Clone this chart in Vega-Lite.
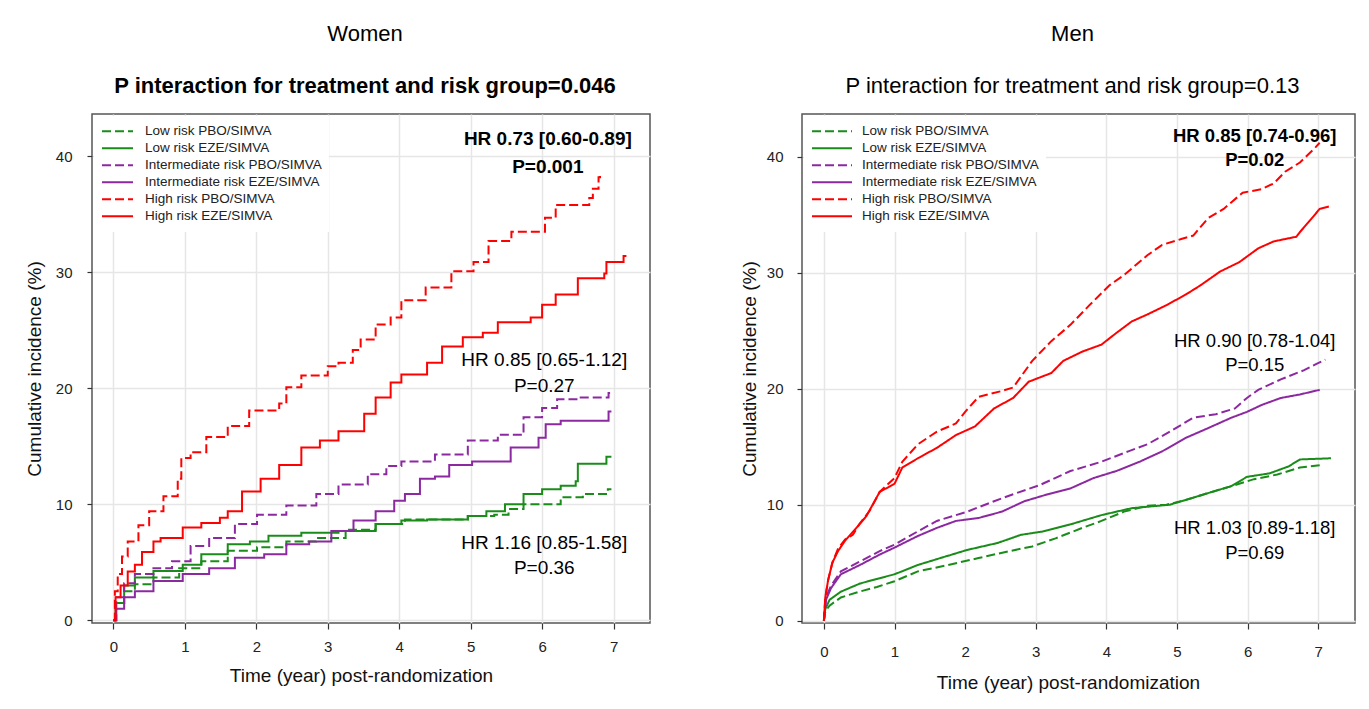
{
  "$schema": "https://vega.github.io/schema/vega-lite/v6.json",
  "padding": {"left": 24, "top": 22, "right": 5, "bottom": 5},
  "background": "white",
  "spacing": 88,
  "config": {
    "font": "Liberation Sans",
    "view": {"stroke": "#555555", "strokeWidth": 1.5},
    "axis": {
      "grid": true, "gridColor": "#e6e6e6", "gridWidth": 1.5,
      "domain": false, "tickColor": "#333333", "tickWidth": 1.2,
      "labelFontSize": 15, "labelColor": "#222222", "labelFont": "Liberation Sans",
      "titleFontSize": 19, "titleFontWeight": "normal", "titleColor": "#111111", "titleFont": "Liberation Sans"
    },
    "legend": {
      "orient": "top-left", "fillColor": "white", "symbolType": "stroke",
      "symbolStrokeWidth": 2, "labelFontSize": 13.5, "labelColor": "#222222", "labelLimit": 400,
      "labelFont": "Liberation Sans", "padding": 7, "offset": 2, "rowPadding": 0, "clipHeight": 16.5
    }
  },
  "datasets": {
    "women": [
      {"g": "Low risk PBO/SIMVA", "t": 0, "v": 0}, {"g": "Low risk PBO/SIMVA", "t": 0.03, "v": 1.5}, {"g": "Low risk PBO/SIMVA", "t": 0.15, "v": 2.5}, {"g": "Low risk PBO/SIMVA", "t": 0.3, "v": 3.1}, {"g": "Low risk PBO/SIMVA", "t": 0.56, "v": 3.7}, {"g": "Low risk PBO/SIMVA", "t": 0.92, "v": 4.5}, {"g": "Low risk PBO/SIMVA", "t": 1.23, "v": 5.1}, {"g": "Low risk PBO/SIMVA", "t": 1.6, "v": 6.0}, {"g": "Low risk PBO/SIMVA", "t": 2.01, "v": 6.3}, {"g": "Low risk PBO/SIMVA", "t": 2.42, "v": 6.8}, {"g": "Low risk PBO/SIMVA", "t": 2.84, "v": 7.1}, {"g": "Low risk PBO/SIMVA", "t": 3.25, "v": 7.8}, {"g": "Low risk PBO/SIMVA", "t": 3.67, "v": 8.3}, {"g": "Low risk PBO/SIMVA", "t": 4.08, "v": 8.7}, {"g": "Low risk PBO/SIMVA", "t": 4.96, "v": 9.0}, {"g": "Low risk PBO/SIMVA", "t": 5.33, "v": 9.1}, {"g": "Low risk PBO/SIMVA", "t": 5.53, "v": 9.6}, {"g": "Low risk PBO/SIMVA", "t": 5.74, "v": 10.0}, {"g": "Low risk PBO/SIMVA", "t": 6.26, "v": 10.6}, {"g": "Low risk PBO/SIMVA", "t": 6.57, "v": 10.9}, {"g": "Low risk PBO/SIMVA", "t": 6.92, "v": 11.3}, {"g": "Low risk PBO/SIMVA", "t": 6.97, "v": 11.3},
      {"g": "Low risk EZE/SIMVA", "t": 0, "v": 0}, {"g": "Low risk EZE/SIMVA", "t": 0.03, "v": 1.5}, {"g": "Low risk EZE/SIMVA", "t": 0.15, "v": 3.0}, {"g": "Low risk EZE/SIMVA", "t": 0.3, "v": 3.7}, {"g": "Low risk EZE/SIMVA", "t": 0.56, "v": 4.25}, {"g": "Low risk EZE/SIMVA", "t": 0.97, "v": 4.8}, {"g": "Low risk EZE/SIMVA", "t": 1.23, "v": 5.7}, {"g": "Low risk EZE/SIMVA", "t": 1.6, "v": 6.55}, {"g": "Low risk EZE/SIMVA", "t": 1.91, "v": 6.8}, {"g": "Low risk EZE/SIMVA", "t": 2.17, "v": 7.3}, {"g": "Low risk EZE/SIMVA", "t": 2.63, "v": 7.55}, {"g": "Low risk EZE/SIMVA", "t": 3.15, "v": 7.7}, {"g": "Low risk EZE/SIMVA", "t": 3.67, "v": 8.3}, {"g": "Low risk EZE/SIMVA", "t": 4.03, "v": 8.6}, {"g": "Low risk EZE/SIMVA", "t": 4.39, "v": 8.7}, {"g": "Low risk EZE/SIMVA", "t": 4.96, "v": 9.0}, {"g": "Low risk EZE/SIMVA", "t": 5.22, "v": 9.4}, {"g": "Low risk EZE/SIMVA", "t": 5.48, "v": 10.0}, {"g": "Low risk EZE/SIMVA", "t": 5.74, "v": 10.9}, {"g": "Low risk EZE/SIMVA", "t": 6.0, "v": 11.3}, {"g": "Low risk EZE/SIMVA", "t": 6.26, "v": 11.6}, {"g": "Low risk EZE/SIMVA", "t": 6.47, "v": 12.0}, {"g": "Low risk EZE/SIMVA", "t": 6.5, "v": 13.5}, {"g": "Low risk EZE/SIMVA", "t": 6.9, "v": 14.1}, {"g": "Low risk EZE/SIMVA", "t": 6.97, "v": 14.1},
      {"g": "Intermediate risk PBO/SIMVA", "t": 0, "v": 0}, {"g": "Intermediate risk PBO/SIMVA", "t": 0.04, "v": 2.0}, {"g": "Intermediate risk PBO/SIMVA", "t": 0.15, "v": 3.2}, {"g": "Intermediate risk PBO/SIMVA", "t": 0.3, "v": 4.0}, {"g": "Intermediate risk PBO/SIMVA", "t": 0.56, "v": 4.5}, {"g": "Intermediate risk PBO/SIMVA", "t": 0.82, "v": 5.1}, {"g": "Intermediate risk PBO/SIMVA", "t": 1.08, "v": 6.4}, {"g": "Intermediate risk PBO/SIMVA", "t": 1.34, "v": 7.1}, {"g": "Intermediate risk PBO/SIMVA", "t": 1.7, "v": 8.3}, {"g": "Intermediate risk PBO/SIMVA", "t": 2.01, "v": 9.1}, {"g": "Intermediate risk PBO/SIMVA", "t": 2.42, "v": 9.9}, {"g": "Intermediate risk PBO/SIMVA", "t": 2.84, "v": 10.9}, {"g": "Intermediate risk PBO/SIMVA", "t": 3.15, "v": 11.7}, {"g": "Intermediate risk PBO/SIMVA", "t": 3.56, "v": 12.6}, {"g": "Intermediate risk PBO/SIMVA", "t": 3.82, "v": 13.3}, {"g": "Intermediate risk PBO/SIMVA", "t": 4.03, "v": 13.7}, {"g": "Intermediate risk PBO/SIMVA", "t": 4.5, "v": 14.3}, {"g": "Intermediate risk PBO/SIMVA", "t": 4.96, "v": 15.5}, {"g": "Intermediate risk PBO/SIMVA", "t": 5.38, "v": 16.0}, {"g": "Intermediate risk PBO/SIMVA", "t": 5.74, "v": 17.5}, {"g": "Intermediate risk PBO/SIMVA", "t": 6.0, "v": 18.3}, {"g": "Intermediate risk PBO/SIMVA", "t": 6.21, "v": 19.05}, {"g": "Intermediate risk PBO/SIMVA", "t": 6.52, "v": 19.2}, {"g": "Intermediate risk PBO/SIMVA", "t": 6.93, "v": 19.6}, {"g": "Intermediate risk PBO/SIMVA", "t": 6.97, "v": 19.6},
      {"g": "Intermediate risk EZE/SIMVA", "t": 0, "v": 0}, {"g": "Intermediate risk EZE/SIMVA", "t": 0.04, "v": 1.0}, {"g": "Intermediate risk EZE/SIMVA", "t": 0.15, "v": 2.0}, {"g": "Intermediate risk EZE/SIMVA", "t": 0.3, "v": 2.5}, {"g": "Intermediate risk EZE/SIMVA", "t": 0.56, "v": 3.4}, {"g": "Intermediate risk EZE/SIMVA", "t": 0.97, "v": 4.0}, {"g": "Intermediate risk EZE/SIMVA", "t": 1.34, "v": 4.5}, {"g": "Intermediate risk EZE/SIMVA", "t": 1.7, "v": 5.4}, {"g": "Intermediate risk EZE/SIMVA", "t": 2.11, "v": 5.7}, {"g": "Intermediate risk EZE/SIMVA", "t": 2.42, "v": 6.55}, {"g": "Intermediate risk EZE/SIMVA", "t": 2.74, "v": 6.8}, {"g": "Intermediate risk EZE/SIMVA", "t": 3.05, "v": 7.7}, {"g": "Intermediate risk EZE/SIMVA", "t": 3.36, "v": 8.6}, {"g": "Intermediate risk EZE/SIMVA", "t": 3.67, "v": 9.4}, {"g": "Intermediate risk EZE/SIMVA", "t": 3.93, "v": 10.3}, {"g": "Intermediate risk EZE/SIMVA", "t": 4.08, "v": 10.9}, {"g": "Intermediate risk EZE/SIMVA", "t": 4.29, "v": 12.2}, {"g": "Intermediate risk EZE/SIMVA", "t": 4.5, "v": 12.4}, {"g": "Intermediate risk EZE/SIMVA", "t": 4.7, "v": 13.4}, {"g": "Intermediate risk EZE/SIMVA", "t": 5.02, "v": 13.7}, {"g": "Intermediate risk EZE/SIMVA", "t": 5.56, "v": 14.9}, {"g": "Intermediate risk EZE/SIMVA", "t": 5.95, "v": 15.75}, {"g": "Intermediate risk EZE/SIMVA", "t": 6.05, "v": 16.9}, {"g": "Intermediate risk EZE/SIMVA", "t": 6.26, "v": 17.2}, {"g": "Intermediate risk EZE/SIMVA", "t": 6.93, "v": 18.0}, {"g": "Intermediate risk EZE/SIMVA", "t": 6.97, "v": 18.0},
      {"g": "High risk PBO/SIMVA", "t": 0, "v": 0}, {"g": "High risk PBO/SIMVA", "t": 0.02, "v": 2.5}, {"g": "High risk PBO/SIMVA", "t": 0.06, "v": 4.0}, {"g": "High risk PBO/SIMVA", "t": 0.12, "v": 5.5}, {"g": "High risk PBO/SIMVA", "t": 0.2, "v": 6.8}, {"g": "High risk PBO/SIMVA", "t": 0.35, "v": 8.2}, {"g": "High risk PBO/SIMVA", "t": 0.5, "v": 9.4}, {"g": "High risk PBO/SIMVA", "t": 0.7, "v": 10.7}, {"g": "High risk PBO/SIMVA", "t": 0.9, "v": 12.2}, {"g": "High risk PBO/SIMVA", "t": 0.95, "v": 14.0}, {"g": "High risk PBO/SIMVA", "t": 1.08, "v": 14.5}, {"g": "High risk PBO/SIMVA", "t": 1.3, "v": 15.8}, {"g": "High risk PBO/SIMVA", "t": 1.6, "v": 16.75}, {"g": "High risk PBO/SIMVA", "t": 1.9, "v": 18.1}, {"g": "High risk PBO/SIMVA", "t": 2.32, "v": 18.7}, {"g": "High risk PBO/SIMVA", "t": 2.42, "v": 20.1}, {"g": "High risk PBO/SIMVA", "t": 2.63, "v": 21.1}, {"g": "High risk PBO/SIMVA", "t": 3.0, "v": 21.9}, {"g": "High risk PBO/SIMVA", "t": 3.15, "v": 22.2}, {"g": "High risk PBO/SIMVA", "t": 3.35, "v": 23.3}, {"g": "High risk PBO/SIMVA", "t": 3.46, "v": 24.2}, {"g": "High risk PBO/SIMVA", "t": 3.67, "v": 25.5}, {"g": "High risk PBO/SIMVA", "t": 3.88, "v": 26.1}, {"g": "High risk PBO/SIMVA", "t": 4.03, "v": 27.6}, {"g": "High risk PBO/SIMVA", "t": 4.37, "v": 28.7}, {"g": "High risk PBO/SIMVA", "t": 4.73, "v": 30.1}, {"g": "High risk PBO/SIMVA", "t": 5.04, "v": 30.9}, {"g": "High risk PBO/SIMVA", "t": 5.25, "v": 32.7}, {"g": "High risk PBO/SIMVA", "t": 5.57, "v": 33.5}, {"g": "High risk PBO/SIMVA", "t": 6.04, "v": 34.7}, {"g": "High risk PBO/SIMVA", "t": 6.19, "v": 35.8}, {"g": "High risk PBO/SIMVA", "t": 6.66, "v": 36.4}, {"g": "High risk PBO/SIMVA", "t": 6.71, "v": 37.2}, {"g": "High risk PBO/SIMVA", "t": 6.79, "v": 38.2}, {"g": "High risk PBO/SIMVA", "t": 6.81, "v": 38.3},
      {"g": "High risk EZE/SIMVA", "t": 0, "v": 0}, {"g": "High risk EZE/SIMVA", "t": 0.03, "v": 2.0}, {"g": "High risk EZE/SIMVA", "t": 0.1, "v": 3.0}, {"g": "High risk EZE/SIMVA", "t": 0.2, "v": 4.2}, {"g": "High risk EZE/SIMVA", "t": 0.3, "v": 4.8}, {"g": "High risk EZE/SIMVA", "t": 0.4, "v": 5.9}, {"g": "High risk EZE/SIMVA", "t": 0.56, "v": 6.8}, {"g": "High risk EZE/SIMVA", "t": 0.66, "v": 7.1}, {"g": "High risk EZE/SIMVA", "t": 0.97, "v": 8.0}, {"g": "High risk EZE/SIMVA", "t": 1.23, "v": 8.4}, {"g": "High risk EZE/SIMVA", "t": 1.49, "v": 8.85}, {"g": "High risk EZE/SIMVA", "t": 1.6, "v": 9.4}, {"g": "High risk EZE/SIMVA", "t": 1.8, "v": 11.1}, {"g": "High risk EZE/SIMVA", "t": 2.06, "v": 12.2}, {"g": "High risk EZE/SIMVA", "t": 2.32, "v": 13.4}, {"g": "High risk EZE/SIMVA", "t": 2.63, "v": 14.9}, {"g": "High risk EZE/SIMVA", "t": 2.89, "v": 15.5}, {"g": "High risk EZE/SIMVA", "t": 3.15, "v": 16.3}, {"g": "High risk EZE/SIMVA", "t": 3.51, "v": 17.8}, {"g": "High risk EZE/SIMVA", "t": 3.67, "v": 19.2}, {"g": "High risk EZE/SIMVA", "t": 3.88, "v": 20.5}, {"g": "High risk EZE/SIMVA", "t": 4.03, "v": 21.2}, {"g": "High risk EZE/SIMVA", "t": 4.39, "v": 22.2}, {"g": "High risk EZE/SIMVA", "t": 4.6, "v": 23.6}, {"g": "High risk EZE/SIMVA", "t": 4.89, "v": 24.4}, {"g": "High risk EZE/SIMVA", "t": 5.17, "v": 24.8}, {"g": "High risk EZE/SIMVA", "t": 5.38, "v": 25.7}, {"g": "High risk EZE/SIMVA", "t": 5.84, "v": 26.1}, {"g": "High risk EZE/SIMVA", "t": 6.0, "v": 27.2}, {"g": "High risk EZE/SIMVA", "t": 6.19, "v": 28.1}, {"g": "High risk EZE/SIMVA", "t": 6.5, "v": 29.5}, {"g": "High risk EZE/SIMVA", "t": 6.87, "v": 29.9}, {"g": "High risk EZE/SIMVA", "t": 6.9, "v": 30.9}, {"g": "High risk EZE/SIMVA", "t": 7.14, "v": 31.4}, {"g": "High risk EZE/SIMVA", "t": 7.18, "v": 31.4}
    ],
    "men": [
      {"g": "Low risk PBO/SIMVA", "t": 0, "v": 0}, {"g": "Low risk PBO/SIMVA", "t": 0.02, "v": 0.8}, {"g": "Low risk PBO/SIMVA", "t": 0.08, "v": 1.3}, {"g": "Low risk PBO/SIMVA", "t": 0.24, "v": 2.0}, {"g": "Low risk PBO/SIMVA", "t": 0.5, "v": 2.5}, {"g": "Low risk PBO/SIMVA", "t": 0.75, "v": 2.9}, {"g": "Low risk PBO/SIMVA", "t": 1.0, "v": 3.4}, {"g": "Low risk PBO/SIMVA", "t": 1.33, "v": 4.25}, {"g": "Low risk PBO/SIMVA", "t": 1.76, "v": 4.8}, {"g": "Low risk PBO/SIMVA", "t": 2.19, "v": 5.4}, {"g": "Low risk PBO/SIMVA", "t": 2.63, "v": 6.0}, {"g": "Low risk PBO/SIMVA", "t": 2.95, "v": 6.4}, {"g": "Low risk PBO/SIMVA", "t": 3.28, "v": 7.1}, {"g": "Low risk PBO/SIMVA", "t": 3.66, "v": 8.0}, {"g": "Low risk PBO/SIMVA", "t": 3.93, "v": 8.6}, {"g": "Low risk PBO/SIMVA", "t": 4.25, "v": 9.4}, {"g": "Low risk PBO/SIMVA", "t": 4.58, "v": 9.9}, {"g": "Low risk PBO/SIMVA", "t": 4.85, "v": 10.0}, {"g": "Low risk PBO/SIMVA", "t": 5.12, "v": 10.4}, {"g": "Low risk PBO/SIMVA", "t": 5.44, "v": 11.0}, {"g": "Low risk PBO/SIMVA", "t": 5.77, "v": 11.6}, {"g": "Low risk PBO/SIMVA", "t": 6.09, "v": 12.2}, {"g": "Low risk PBO/SIMVA", "t": 6.42, "v": 12.6}, {"g": "Low risk PBO/SIMVA", "t": 6.74, "v": 13.2}, {"g": "Low risk PBO/SIMVA", "t": 7.02, "v": 13.4},
      {"g": "Low risk EZE/SIMVA", "t": 0, "v": 0}, {"g": "Low risk EZE/SIMVA", "t": 0.02, "v": 1.0}, {"g": "Low risk EZE/SIMVA", "t": 0.08, "v": 1.8}, {"g": "Low risk EZE/SIMVA", "t": 0.24, "v": 2.5}, {"g": "Low risk EZE/SIMVA", "t": 0.51, "v": 3.2}, {"g": "Low risk EZE/SIMVA", "t": 0.75, "v": 3.6}, {"g": "Low risk EZE/SIMVA", "t": 1.0, "v": 4.0}, {"g": "Low risk EZE/SIMVA", "t": 1.33, "v": 4.8}, {"g": "Low risk EZE/SIMVA", "t": 1.65, "v": 5.4}, {"g": "Low risk EZE/SIMVA", "t": 2.03, "v": 6.1}, {"g": "Low risk EZE/SIMVA", "t": 2.46, "v": 6.7}, {"g": "Low risk EZE/SIMVA", "t": 2.79, "v": 7.4}, {"g": "Low risk EZE/SIMVA", "t": 3.11, "v": 7.7}, {"g": "Low risk EZE/SIMVA", "t": 3.49, "v": 8.3}, {"g": "Low risk EZE/SIMVA", "t": 3.93, "v": 9.1}, {"g": "Low risk EZE/SIMVA", "t": 4.36, "v": 9.7}, {"g": "Low risk EZE/SIMVA", "t": 4.9, "v": 10.0}, {"g": "Low risk EZE/SIMVA", "t": 5.12, "v": 10.4}, {"g": "Low risk EZE/SIMVA", "t": 5.44, "v": 11.0}, {"g": "Low risk EZE/SIMVA", "t": 5.77, "v": 11.6}, {"g": "Low risk EZE/SIMVA", "t": 5.99, "v": 12.4}, {"g": "Low risk EZE/SIMVA", "t": 6.31, "v": 12.7}, {"g": "Low risk EZE/SIMVA", "t": 6.58, "v": 13.3}, {"g": "Low risk EZE/SIMVA", "t": 6.74, "v": 13.9}, {"g": "Low risk EZE/SIMVA", "t": 7.18, "v": 14.0},
      {"g": "Intermediate risk PBO/SIMVA", "t": 0, "v": 0}, {"g": "Intermediate risk PBO/SIMVA", "t": 0.03, "v": 2.0}, {"g": "Intermediate risk PBO/SIMVA", "t": 0.1, "v": 3.0}, {"g": "Intermediate risk PBO/SIMVA", "t": 0.24, "v": 4.25}, {"g": "Intermediate risk PBO/SIMVA", "t": 0.51, "v": 5.1}, {"g": "Intermediate risk PBO/SIMVA", "t": 0.79, "v": 6.0}, {"g": "Intermediate risk PBO/SIMVA", "t": 1.0, "v": 6.55}, {"g": "Intermediate risk PBO/SIMVA", "t": 1.33, "v": 7.7}, {"g": "Intermediate risk PBO/SIMVA", "t": 1.6, "v": 8.6}, {"g": "Intermediate risk PBO/SIMVA", "t": 2.03, "v": 9.4}, {"g": "Intermediate risk PBO/SIMVA", "t": 2.41, "v": 10.3}, {"g": "Intermediate risk PBO/SIMVA", "t": 2.68, "v": 10.9}, {"g": "Intermediate risk PBO/SIMVA", "t": 3.06, "v": 11.7}, {"g": "Intermediate risk PBO/SIMVA", "t": 3.49, "v": 12.9}, {"g": "Intermediate risk PBO/SIMVA", "t": 3.93, "v": 13.7}, {"g": "Intermediate risk PBO/SIMVA", "t": 4.31, "v": 14.6}, {"g": "Intermediate risk PBO/SIMVA", "t": 4.58, "v": 15.2}, {"g": "Intermediate risk PBO/SIMVA", "t": 4.9, "v": 16.3}, {"g": "Intermediate risk PBO/SIMVA", "t": 5.23, "v": 17.5}, {"g": "Intermediate risk PBO/SIMVA", "t": 5.55, "v": 17.8}, {"g": "Intermediate risk PBO/SIMVA", "t": 5.82, "v": 18.3}, {"g": "Intermediate risk PBO/SIMVA", "t": 5.99, "v": 19.2}, {"g": "Intermediate risk PBO/SIMVA", "t": 6.15, "v": 19.9}, {"g": "Intermediate risk PBO/SIMVA", "t": 6.47, "v": 20.8}, {"g": "Intermediate risk PBO/SIMVA", "t": 6.8, "v": 21.6}, {"g": "Intermediate risk PBO/SIMVA", "t": 6.96, "v": 22.1}, {"g": "Intermediate risk PBO/SIMVA", "t": 7.1, "v": 22.5},
      {"g": "Intermediate risk EZE/SIMVA", "t": 0, "v": 0}, {"g": "Intermediate risk EZE/SIMVA", "t": 0.03, "v": 1.8}, {"g": "Intermediate risk EZE/SIMVA", "t": 0.1, "v": 2.8}, {"g": "Intermediate risk EZE/SIMVA", "t": 0.24, "v": 4.0}, {"g": "Intermediate risk EZE/SIMVA", "t": 0.51, "v": 4.8}, {"g": "Intermediate risk EZE/SIMVA", "t": 0.79, "v": 5.7}, {"g": "Intermediate risk EZE/SIMVA", "t": 1.0, "v": 6.3}, {"g": "Intermediate risk EZE/SIMVA", "t": 1.33, "v": 7.3}, {"g": "Intermediate risk EZE/SIMVA", "t": 1.6, "v": 8.0}, {"g": "Intermediate risk EZE/SIMVA", "t": 1.87, "v": 8.6}, {"g": "Intermediate risk EZE/SIMVA", "t": 2.19, "v": 8.85}, {"g": "Intermediate risk EZE/SIMVA", "t": 2.52, "v": 9.4}, {"g": "Intermediate risk EZE/SIMVA", "t": 2.84, "v": 10.3}, {"g": "Intermediate risk EZE/SIMVA", "t": 3.17, "v": 10.9}, {"g": "Intermediate risk EZE/SIMVA", "t": 3.49, "v": 11.4}, {"g": "Intermediate risk EZE/SIMVA", "t": 3.82, "v": 12.3}, {"g": "Intermediate risk EZE/SIMVA", "t": 4.14, "v": 12.9}, {"g": "Intermediate risk EZE/SIMVA", "t": 4.47, "v": 13.7}, {"g": "Intermediate risk EZE/SIMVA", "t": 4.79, "v": 14.6}, {"g": "Intermediate risk EZE/SIMVA", "t": 5.12, "v": 15.75}, {"g": "Intermediate risk EZE/SIMVA", "t": 5.44, "v": 16.6}, {"g": "Intermediate risk EZE/SIMVA", "t": 5.77, "v": 17.5}, {"g": "Intermediate risk EZE/SIMVA", "t": 5.99, "v": 18.0}, {"g": "Intermediate risk EZE/SIMVA", "t": 6.2, "v": 18.6}, {"g": "Intermediate risk EZE/SIMVA", "t": 6.47, "v": 19.2}, {"g": "Intermediate risk EZE/SIMVA", "t": 6.74, "v": 19.5}, {"g": "Intermediate risk EZE/SIMVA", "t": 7.02, "v": 19.9},
      {"g": "High risk PBO/SIMVA", "t": 0, "v": 0}, {"g": "High risk PBO/SIMVA", "t": 0.02, "v": 2.0}, {"g": "High risk PBO/SIMVA", "t": 0.06, "v": 3.5}, {"g": "High risk PBO/SIMVA", "t": 0.12, "v": 5.0}, {"g": "High risk PBO/SIMVA", "t": 0.2, "v": 6.2}, {"g": "High risk PBO/SIMVA", "t": 0.3, "v": 7.0}, {"g": "High risk PBO/SIMVA", "t": 0.41, "v": 7.4}, {"g": "High risk PBO/SIMVA", "t": 0.5, "v": 8.3}, {"g": "High risk PBO/SIMVA", "t": 0.65, "v": 9.5}, {"g": "High risk PBO/SIMVA", "t": 0.79, "v": 11.1}, {"g": "High risk PBO/SIMVA", "t": 1.0, "v": 12.3}, {"g": "High risk PBO/SIMVA", "t": 1.11, "v": 13.7}, {"g": "High risk PBO/SIMVA", "t": 1.33, "v": 15.2}, {"g": "High risk PBO/SIMVA", "t": 1.6, "v": 16.3}, {"g": "High risk PBO/SIMVA", "t": 1.87, "v": 17.0}, {"g": "High risk PBO/SIMVA", "t": 2.0, "v": 18.0}, {"g": "High risk PBO/SIMVA", "t": 2.19, "v": 19.3}, {"g": "High risk PBO/SIMVA", "t": 2.52, "v": 19.8}, {"g": "High risk PBO/SIMVA", "t": 2.68, "v": 20.1}, {"g": "High risk PBO/SIMVA", "t": 2.95, "v": 22.4}, {"g": "High risk PBO/SIMVA", "t": 3.22, "v": 24.1}, {"g": "High risk PBO/SIMVA", "t": 3.49, "v": 25.5}, {"g": "High risk PBO/SIMVA", "t": 3.76, "v": 27.2}, {"g": "High risk PBO/SIMVA", "t": 4.04, "v": 28.9}, {"g": "High risk PBO/SIMVA", "t": 4.25, "v": 29.8}, {"g": "High risk PBO/SIMVA", "t": 4.58, "v": 31.5}, {"g": "High risk PBO/SIMVA", "t": 4.79, "v": 32.4}, {"g": "High risk PBO/SIMVA", "t": 5.06, "v": 32.9}, {"g": "High risk PBO/SIMVA", "t": 5.23, "v": 33.2}, {"g": "High risk PBO/SIMVA", "t": 5.44, "v": 34.7}, {"g": "High risk PBO/SIMVA", "t": 5.66, "v": 35.5}, {"g": "High risk PBO/SIMVA", "t": 5.93, "v": 36.9}, {"g": "High risk PBO/SIMVA", "t": 6.2, "v": 37.2}, {"g": "High risk PBO/SIMVA", "t": 6.37, "v": 37.7}, {"g": "High risk PBO/SIMVA", "t": 6.53, "v": 38.7}, {"g": "High risk PBO/SIMVA", "t": 6.74, "v": 39.5}, {"g": "High risk PBO/SIMVA", "t": 6.96, "v": 40.8}, {"g": "High risk PBO/SIMVA", "t": 7.02, "v": 41.2},
      {"g": "High risk EZE/SIMVA", "t": 0, "v": 0}, {"g": "High risk EZE/SIMVA", "t": 0.02, "v": 2.0}, {"g": "High risk EZE/SIMVA", "t": 0.06, "v": 3.5}, {"g": "High risk EZE/SIMVA", "t": 0.12, "v": 5.0}, {"g": "High risk EZE/SIMVA", "t": 0.2, "v": 6.0}, {"g": "High risk EZE/SIMVA", "t": 0.3, "v": 6.9}, {"g": "High risk EZE/SIMVA", "t": 0.46, "v": 8.0}, {"g": "High risk EZE/SIMVA", "t": 0.6, "v": 9.0}, {"g": "High risk EZE/SIMVA", "t": 0.79, "v": 11.1}, {"g": "High risk EZE/SIMVA", "t": 1.0, "v": 11.8}, {"g": "High risk EZE/SIMVA", "t": 1.11, "v": 13.2}, {"g": "High risk EZE/SIMVA", "t": 1.33, "v": 14.0}, {"g": "High risk EZE/SIMVA", "t": 1.6, "v": 14.9}, {"g": "High risk EZE/SIMVA", "t": 1.87, "v": 16.0}, {"g": "High risk EZE/SIMVA", "t": 2.14, "v": 16.75}, {"g": "High risk EZE/SIMVA", "t": 2.41, "v": 18.3}, {"g": "High risk EZE/SIMVA", "t": 2.68, "v": 19.2}, {"g": "High risk EZE/SIMVA", "t": 2.9, "v": 20.6}, {"g": "High risk EZE/SIMVA", "t": 3.22, "v": 21.35}, {"g": "High risk EZE/SIMVA", "t": 3.39, "v": 22.4}, {"g": "High risk EZE/SIMVA", "t": 3.66, "v": 23.2}, {"g": "High risk EZE/SIMVA", "t": 3.93, "v": 23.8}, {"g": "High risk EZE/SIMVA", "t": 4.14, "v": 24.8}, {"g": "High risk EZE/SIMVA", "t": 4.36, "v": 25.8}, {"g": "High risk EZE/SIMVA", "t": 4.58, "v": 26.4}, {"g": "High risk EZE/SIMVA", "t": 4.85, "v": 27.2}, {"g": "High risk EZE/SIMVA", "t": 5.12, "v": 28.1}, {"g": "High risk EZE/SIMVA", "t": 5.33, "v": 28.9}, {"g": "High risk EZE/SIMVA", "t": 5.61, "v": 30.1}, {"g": "High risk EZE/SIMVA", "t": 5.88, "v": 30.9}, {"g": "High risk EZE/SIMVA", "t": 6.15, "v": 32.1}, {"g": "High risk EZE/SIMVA", "t": 6.37, "v": 32.7}, {"g": "High risk EZE/SIMVA", "t": 6.69, "v": 33.1}, {"g": "High risk EZE/SIMVA", "t": 6.74, "v": 33.5}, {"g": "High risk EZE/SIMVA", "t": 6.91, "v": 34.7}, {"g": "High risk EZE/SIMVA", "t": 7.02, "v": 35.5}, {"g": "High risk EZE/SIMVA", "t": 7.15, "v": 35.7}
    ],
    "women_notes": [
      {"t": 6.08, "v": 41.5, "label": "HR 0.73 [0.60-0.89]", "bold": true},
      {"t": 6.08, "v": 39.1, "label": "P=0.001", "bold": true},
      {"t": 6.03, "v": 22.4, "label": "HR 0.85 [0.65-1.12]", "bold": false},
      {"t": 6.03, "v": 20.2, "label": "P=0.27", "bold": false},
      {"t": 6.03, "v": 6.7, "label": "HR 1.16 [0.85-1.58]", "bold": false},
      {"t": 6.03, "v": 4.5, "label": "P=0.36", "bold": false}
    ],
    "men_notes": [
      {"t": 6.1, "v": 41.8, "label": "HR 0.85 [0.74-0.96]", "bold": true},
      {"t": 6.1, "v": 39.7, "label": "P=0.02", "bold": true},
      {"t": 6.1, "v": 24.1, "label": "HR 0.90 [0.78-1.04]", "bold": false},
      {"t": 6.1, "v": 22.0, "label": "P=0.15", "bold": false},
      {"t": 6.1, "v": 8.0, "label": "HR 1.03 [0.89-1.18]", "bold": false},
      {"t": 6.1, "v": 5.8, "label": "P=0.69", "bold": false}
    ]
  },
  "hconcat": [
    {
      "width": 558, "height": 509,
      "title": {"text": "Women", "subtitle": "P interaction for treatment and risk group=0.046", "fontSize": 22, "fontWeight": "normal", "subtitleFontSize": 22, "subtitleFontWeight": "bold", "subtitlePadding": 30, "offset": 16, "anchor": "middle", "frame": "group", "color": "#000000", "subtitleColor": "#000000", "font": "Liberation Sans", "subtitleFont": "Liberation Sans", "dx": -6},
      "layer": [
        {
          "data": {"name": "women"},
          "mark": {"type": "line", "strokeWidth": 2, "interpolate": "step-after"},
          "encoding": {
            "x": {"field": "t", "type": "quantitative", "scale": {"domain": [-0.3, 7.51], "nice": false, "zero": false}, "axis": {"title": "Time (year) post-randomization", "values": [0, 1, 2, 3, 4, 5, 6, 7], "format": "d", "tickSize": 6, "labelPadding": 10, "titlePadding": 12, "titleX": 269}},
            "y": {"field": "v", "type": "quantitative", "scale": {"domain": [-0.23, 43.65], "nice": false, "zero": false}, "axis": {"title": "Cumulative incidence (%)", "values": [0, 10, 20, 30, 40], "format": "d", "tickSize": 5, "labelPadding": 15, "titlePadding": 11}},
            "color": {"field": "g", "type": "nominal", "scale": {"domain": ["Low risk PBO/SIMVA", "Low risk EZE/SIMVA", "Intermediate risk PBO/SIMVA", "Intermediate risk EZE/SIMVA", "High risk PBO/SIMVA", "High risk EZE/SIMVA"], "range": ["#1a8c1a", "#1a8c1a", "#8c28a0", "#8c28a0", "#ff0000", "#ff0000"]}, "legend": {"title": null, "symbolSize": 961, "labelOffset": 11}},
            "strokeDash": {"field": "g", "type": "nominal", "scale": {"domain": ["Low risk PBO/SIMVA", "Low risk EZE/SIMVA", "Intermediate risk PBO/SIMVA", "Intermediate risk EZE/SIMVA", "High risk PBO/SIMVA", "High risk EZE/SIMVA"], "range": [[9, 4], [1, 0], [9, 4], [1, 0], [9, 4], [1, 0]]}, "legend": {"title": null, "symbolSize": 961, "labelOffset": 11}},
            "detail": {"field": "g"}
          }
        },
        {
          "data": {"name": "women_notes"},
          "transform": [{"filter": "datum.bold"}],
          "mark": {"type": "text", "fontSize": 19, "fontWeight": "bold", "color": "#000000", "align": "center", "baseline": "middle"},
          "encoding": {"x": {"field": "t", "type": "quantitative"}, "y": {"field": "v", "type": "quantitative"}, "text": {"field": "label"}}
        },
        {
          "data": {"name": "women_notes"},
          "transform": [{"filter": "!datum.bold"}],
          "mark": {"type": "text", "fontSize": 19, "fontWeight": "normal", "color": "#000000", "align": "center", "baseline": "middle"},
          "encoding": {"x": {"field": "t", "type": "quantitative"}, "y": {"field": "v", "type": "quantitative"}, "text": {"field": "label"}}
        }
      ]
    },
    {
      "width": 553, "height": 509,
      "title": {"text": "Men", "subtitle": "P interaction for treatment and risk group=0.13", "fontSize": 22, "fontWeight": "normal", "subtitleFontSize": 22, "subtitleFontWeight": "normal", "subtitlePadding": 30, "offset": 16, "anchor": "middle", "frame": "group", "color": "#000000", "subtitleColor": "#000000", "font": "Liberation Sans", "subtitleFont": "Liberation Sans", "dx": -6},
      "layer": [
        {
          "data": {"name": "men"},
          "mark": {"type": "line", "strokeWidth": 2, "interpolate": "linear"},
          "encoding": {
            "x": {"field": "t", "type": "quantitative", "scale": {"domain": [-0.31, 7.52], "nice": false, "zero": false}, "axis": {"title": "Time (year) post-randomization", "values": [0, 1, 2, 3, 4, 5, 6, 7], "format": "d", "tickSize": 6, "labelPadding": 15, "titlePadding": 14, "titleX": 266}},
            "y": {"field": "v", "type": "quantitative", "scale": {"domain": [-0.2, 43.68], "nice": false, "zero": false}, "axis": {"title": "Cumulative incidence (%)", "values": [0, 10, 20, 30, 40], "format": "d", "tickSize": 5, "labelPadding": 14, "titlePadding": 7}},
            "color": {"field": "g", "type": "nominal", "scale": {"domain": ["Low risk PBO/SIMVA", "Low risk EZE/SIMVA", "Intermediate risk PBO/SIMVA", "Intermediate risk EZE/SIMVA", "High risk PBO/SIMVA", "High risk EZE/SIMVA"], "range": ["#1a8c1a", "#1a8c1a", "#8c28a0", "#8c28a0", "#ff0000", "#ff0000"]}, "legend": {"title": null, "symbolSize": 1600, "labelOffset": 9}},
            "strokeDash": {"field": "g", "type": "nominal", "scale": {"domain": ["Low risk PBO/SIMVA", "Low risk EZE/SIMVA", "Intermediate risk PBO/SIMVA", "Intermediate risk EZE/SIMVA", "High risk PBO/SIMVA", "High risk EZE/SIMVA"], "range": [[9, 4], [1, 0], [9, 4], [1, 0], [9, 4], [1, 0]]}, "legend": {"title": null, "symbolSize": 1600, "labelOffset": 9}},
            "detail": {"field": "g"}
          }
        },
        {
          "data": {"name": "men_notes"},
          "transform": [{"filter": "datum.bold"}],
          "mark": {"type": "text", "fontSize": 18.5, "fontWeight": "bold", "color": "#000000", "align": "center", "baseline": "middle"},
          "encoding": {"x": {"field": "t", "type": "quantitative"}, "y": {"field": "v", "type": "quantitative"}, "text": {"field": "label"}}
        },
        {
          "data": {"name": "men_notes"},
          "transform": [{"filter": "!datum.bold"}],
          "mark": {"type": "text", "fontSize": 18.5, "fontWeight": "normal", "color": "#000000", "align": "center", "baseline": "middle"},
          "encoding": {"x": {"field": "t", "type": "quantitative"}, "y": {"field": "v", "type": "quantitative"}, "text": {"field": "label"}}
        }
      ]
    }
  ],
  "resolve": {"scale": {"color": "independent", "strokeDash": "independent"}, "legend": {"color": "independent", "strokeDash": "independent"}}
}
